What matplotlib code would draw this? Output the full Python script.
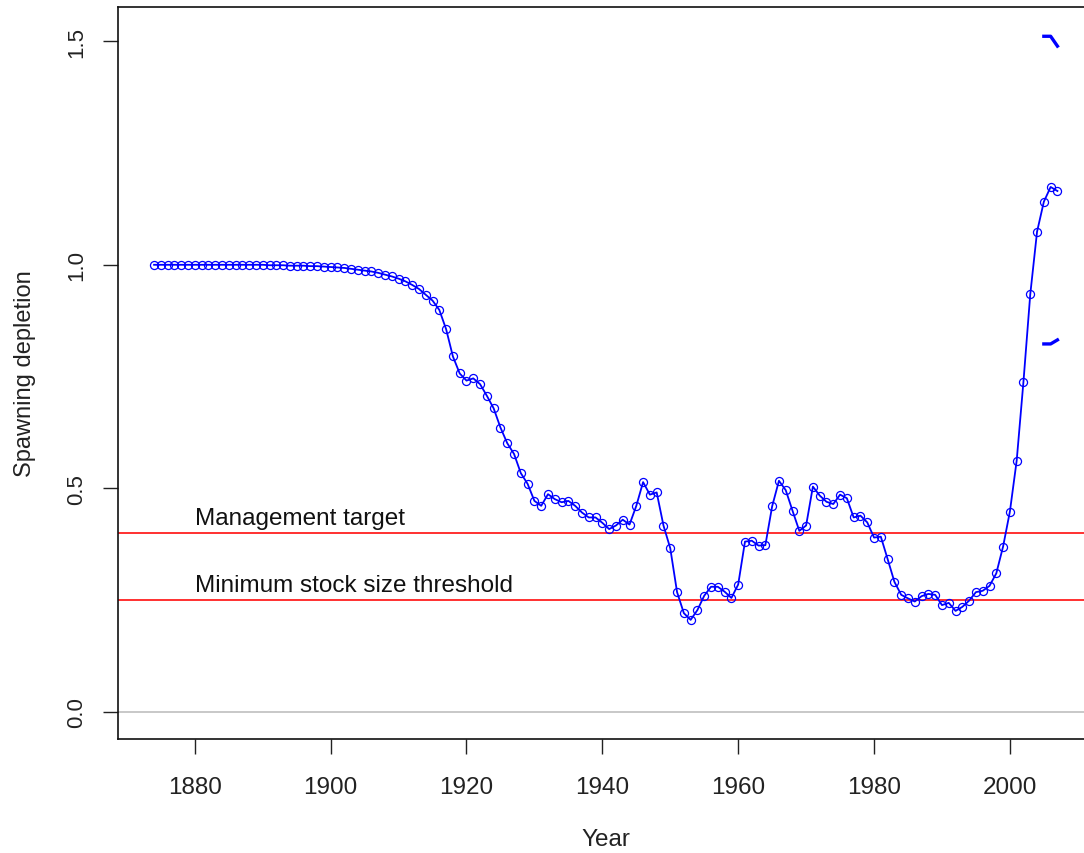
import numpy as np
import matplotlib
matplotlib.use("Agg")
import matplotlib.pyplot as plt

plt.rcParams['font.family'] = ['Liberation Sans', 'DejaVu Sans']

# spawning depletion by year
years = list(range(1874, 2008))
depletion = [
    1.000, 1.000, 1.000, 1.000, 1.000, 1.000, 1.000, 1.000, 1.000, 1.000,   # 1874-1883
    1.000, 1.000, 1.000, 1.000, 1.000, 1.000, 1.000, 0.999, 0.999, 0.999,   # 1884-1893
    0.998, 0.998, 0.998, 0.997, 0.997, 0.996,                               # 1894-1899
    0.995, 0.994, 0.993, 0.991, 0.989, 0.987, 0.985, 0.982, 0.978, 0.974,   # 1900-1909
    0.969, 0.963, 0.955, 0.946, 0.933, 0.920, 0.899, 0.856, 0.795, 0.757,   # 1910-1919
    0.741, 0.746, 0.733, 0.707, 0.679, 0.636, 0.601, 0.577, 0.534, 0.510,   # 1920-1929
    0.472, 0.461, 0.487, 0.476, 0.469, 0.472, 0.461, 0.446, 0.435, 0.435,   # 1930-1939
    0.423, 0.409, 0.417, 0.430, 0.419, 0.461, 0.514, 0.486, 0.491, 0.417,   # 1940-1949
    0.366, 0.268, 0.221, 0.206, 0.228, 0.260, 0.280, 0.280, 0.269, 0.255,   # 1950-1959
    0.285, 0.381, 0.383, 0.372, 0.373, 0.460, 0.517, 0.496, 0.450, 0.405,   # 1960-1969
    0.417, 0.504, 0.484, 0.470, 0.465, 0.486, 0.478, 0.435, 0.439, 0.424,   # 1970-1979
    0.390, 0.392, 0.342, 0.291, 0.262, 0.254, 0.247, 0.259, 0.264, 0.262,   # 1980-1989
    0.239, 0.244, 0.226, 0.235, 0.249, 0.268, 0.271, 0.282, 0.310, 0.370,   # 1990-1999
    0.448, 0.562, 0.739, 0.934, 1.074, 1.141, 1.174, 1.165,                 # 2000-2007
]

# interval pieces drawn at the end of the series
ci_years = [2005, 2006, 2007]
ci_upper = [1.511, 1.511, 1.489]
ci_lower = [0.823, 0.823, 0.832]

target = 0.40
threshold = 0.25

fig = plt.figure(figsize=(10.84, 8.54), dpi=100)
ax = fig.add_axes([0.1089, 0.1335, 0.8998, 0.8571])

ax.axhline(0.0, color='#c8c8c8', lw=1.4, zorder=1)
ax.axhline(target, color='#ff2020', lw=1.3, zorder=2)
ax.axhline(threshold, color='#ff2020', lw=1.3, zorder=2)

ax.plot(years, depletion, color='#0000ff', lw=1.3, marker='o', markersize=5.8,
        markerfacecolor='none', markeredgecolor='#0000ff', markeredgewidth=0.9, zorder=3)
ax.plot(ci_years, ci_upper, color='#0000ff', lw=2.4, zorder=3)
ax.plot(ci_years, ci_lower, color='#0000ff', lw=2.4, zorder=3)

ax.annotate('Management target', xy=(1880, target), xytext=(0, 3),
            textcoords='offset points', ha='left', va='bottom', fontsize=17.5, color='#111111')
ax.annotate('Minimum stock size threshold', xy=(1880, threshold), xytext=(0, 3),
            textcoords='offset points', ha='left', va='bottom', fontsize=17.5, color='#111111')

ax.set_xlim(1868.7, 2012.3)
ax.set_ylim(-0.0604, 1.5764)
ax.set_xticks([1880, 1900, 1920, 1940, 1960, 1980, 2000])
ax.set_yticks([0.0, 0.5, 1.0, 1.5])
ax.set_yticklabels(['0.0', '0.5', '1.0', '1.5'], rotation=90, va='center')

ax.tick_params(axis='x', length=11, width=1.0, pad=16, labelsize=17.5, colors='#222222')
ax.tick_params(axis='y', length=11, width=1.0, pad=11, labelsize=16, colors='#222222')
for s in ax.spines.values():
    s.set_linewidth(1.2)
    s.set_color('#111111')

ax.set_xlabel('Year', fontsize=17.5, labelpad=21, color='#222222')
ax.set_ylabel('Spawning depletion', fontsize=17, labelpad=22, color='#222222')

fig.savefig('out.png', dpi=100)
